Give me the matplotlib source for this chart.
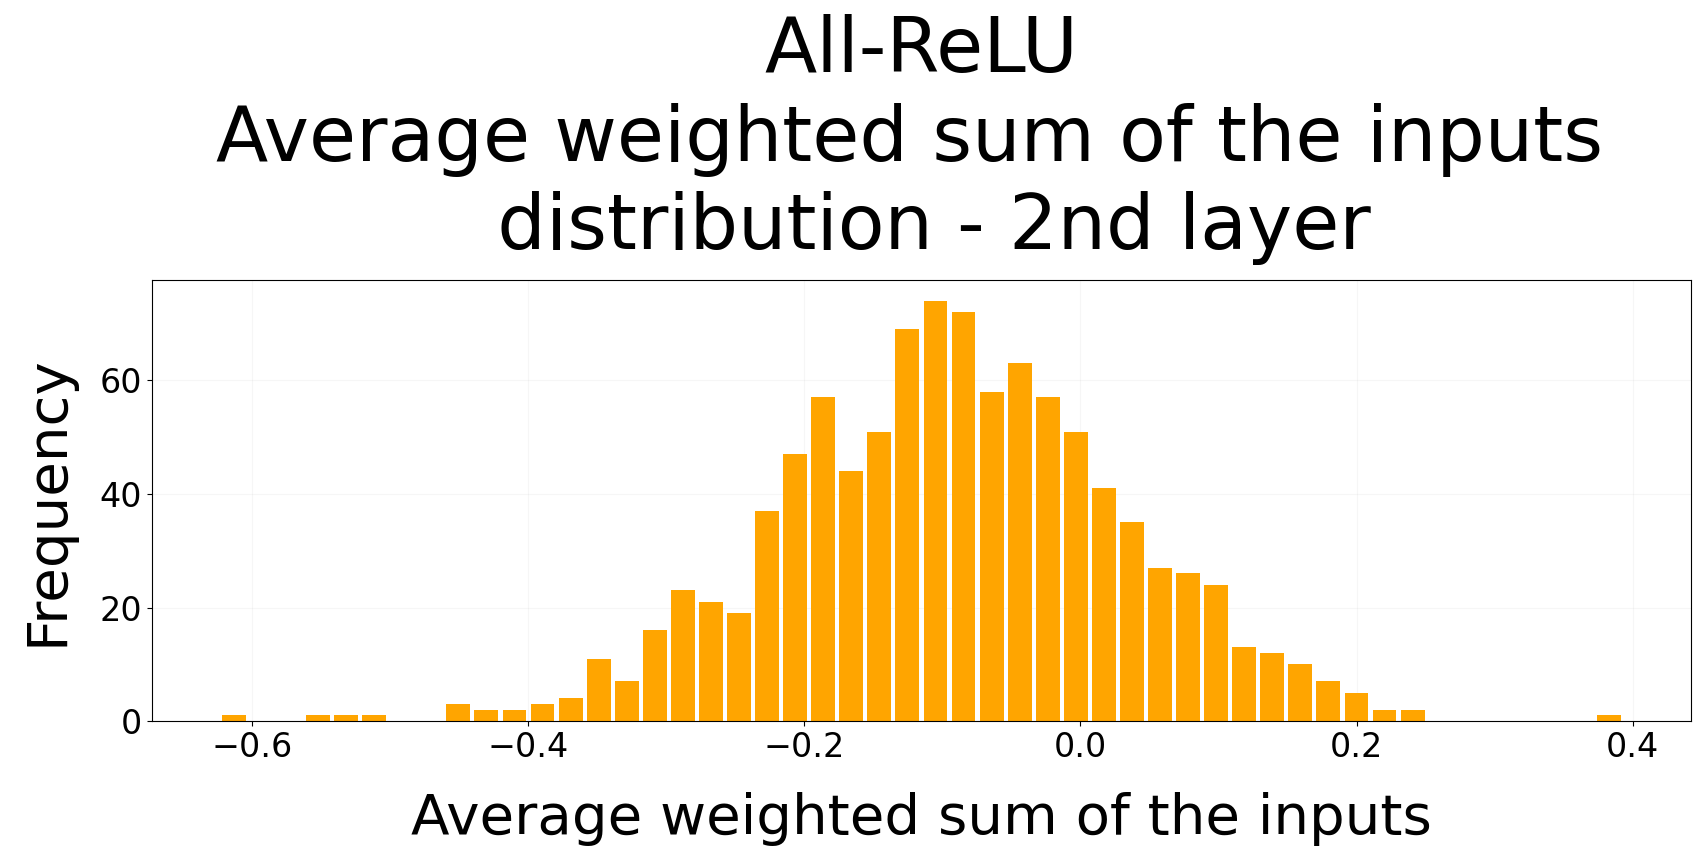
import numpy as np
import matplotlib
matplotlib.use('Agg')
import matplotlib.pyplot as plt

# histogram: 50 equal bins between lo and hi
lo = -0.6231
hi = 0.3930
counts = [1, 0, 0, 1, 1, 1, 0, 0, 3, 2,
          2, 3, 4, 11, 7, 16, 23, 21, 19, 37,
          47, 57, 44, 51, 69, 74, 72, 58, 63, 57,
          51, 41, 35, 27, 26, 24, 13, 12, 10, 7,
          5, 2, 2, 0, 0, 0, 0, 0, 0, 1]
xticks = [-0.6, -0.4, -0.2, 0.0, 0.2, 0.4]
yticks = [0, 20, 40, 60]

edges = np.linspace(lo, hi, len(counts) + 1)
centers = (edges[:-1] + edges[1:]) / 2

fig = plt.figure(figsize=(17.07, 8.63), dpi=100)
ax = fig.add_axes([0.089, 0.1645, 0.9016, 0.5111])

ax.hist(centers, bins=edges, weights=counts, rwidth=0.85, color='orange')
ax.grid(True, alpha=0.1)
ax.set_axisbelow(True)
ax.set_xticks(xticks)
ax.set_yticks(yticks)
ax.tick_params(labelsize=24)

ax.set_xlabel("Average weighted sum of the inputs", fontsize=40.5, labelpad=20)
ax.set_ylabel("Frequency", fontsize=40.5, labelpad=18)
ax.set_title("All-ReLU\nAverage weighted sum of the inputs \n distribution - 2nd layer",
             fontsize=55, pad=22, linespacing=1.25)

fig.savefig('out.png', dpi=100)
